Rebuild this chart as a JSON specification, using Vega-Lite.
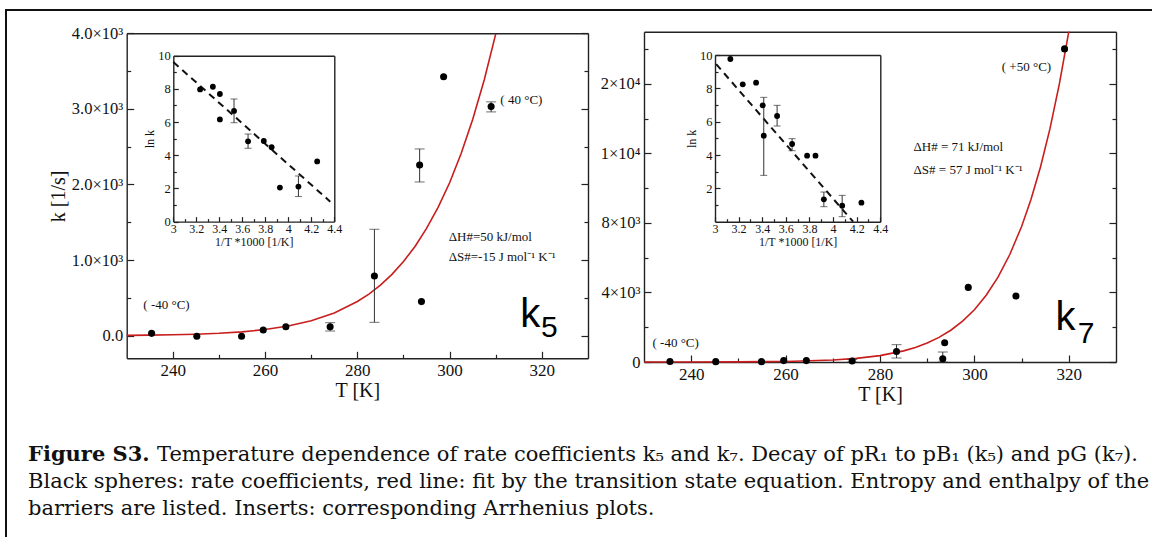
{
"$schema":"https://vega.github.io/schema/vega-lite/v6.json",
"width":1154,"height":535,
"autosize":{"type":"none"},
"padding":{"left":6,"top":10,"right":-8,"bottom":-8},
"background":"white",
"config":{
 "view":{"stroke":"#111","strokeWidth":2},
 "axis":{"grid":false,"domainColor":"#222","domainWidth":1.4,"tickColor":"#222","tickWidth":1.2,"labelFont":"Liberation Serif","titleFont":"Liberation Serif","titleFontWeight":"normal","labelColor":"#111","titleColor":"#111","labelFontSize":16,"titleFontSize":20,"labelPadding":10,"labelFlush":false,"labelOverlap":false},
 "text":{"font":"Liberation Serif","color":"#111"}
},
"datasets":{
 "ptsL":[
  {"T":235.4,"k":30},{"T":245.2,"k":-8},{"T":254.9,"k":-8},{"T":259.6,"k":74},{"T":264.5,"k":118},
  {"T":274.1,"k":118,"lo":61,"hi":171},{"T":283.7,"k":790,"lo":176,"hi":1407},{"T":293.5,"k":2258,"lo":2033,"hi":2470},
  {"T":293.9,"k":450},{"T":298.7,"k":3425},{"T":309.0,"k":3030,"lo":2960,"hi":3093}],
 "curveL":[
  {"T":230,"k":3.5},{"T":235,"k":6.2},{"T":240,"k":10.8},{"T":245,"k":18.4},{"T":250,"k":30.6},{"T":255,"k":50},
  {"T":260,"k":80},{"T":265,"k":127},{"T":270,"k":196},{"T":275,"k":300},{"T":280,"k":451},{"T":282.5,"k":550},
  {"T":285,"k":669},{"T":287.5,"k":811},{"T":290,"k":980},{"T":292.5,"k":1180},{"T":295,"k":1418},{"T":297.5,"k":1696},
  {"T":300,"k":2023},{"T":302.5,"k":2409},{"T":305,"k":2859},{"T":307.5,"k":3382},{"T":310,"k":3993}],
 "notesL":[
  {"T":233.6,"k":405,"txt":"( -40 °C)"},{"T":311.0,"k":3117,"txt":"( 40 °C)"},
  {"T":299.8,"k":1305,"txt":"ΔH#=50 kJ/mol"},{"T":299.8,"k":1040,"txt":"ΔS#=-15 J mol⁻¹ K⁻¹"}],
 "bigL":[{"T":315.3,"k":114,"txt":"k"}],
 "subL":[{"T":319.8,"k":-18,"txt":"5"}],
 "inL":[
  {"x":3.233,"y":7.97},{"x":3.344,"y":8.13},{"x":3.405,"y":7.69},{"x":3.405,"y":6.16},
  {"x":3.528,"y":6.67,"lo":5.96,"hi":7.39},{"x":3.65,"y":4.84,"lo":4.42,"hi":5.28},{"x":3.787,"y":4.86},
  {"x":3.855,"y":4.48},{"x":3.927,"y":2.05},{"x":4.088,"y":2.11,"lo":1.51,"hi":2.75},{"x":4.251,"y":3.63}],
 "fitL":[{"x":3.0,"y":9.62},{"x":4.365,"y":1.2}],
 "ptsR":[
  {"T":235.5,"k":30},{"T":245.2,"k":20},{"T":254.9,"k":20},{"T":259.6,"k":80},{"T":264.4,"k":80},
  {"T":274.1,"k":60,"lo":0,"hi":150},{"T":283.5,"k":600,"lo":230,"hi":996},{"T":293.3,"k":190,"lo":0,"hi":575},
  {"T":293.7,"k":1111},{"T":298.7,"k":4292},{"T":308.8,"k":3794},{"T":319.1,"k":18010}],
 "curveR":[
  {"T":230,"k":0.4},{"T":240,"k":2},{"T":250,"k":8.4},{"T":260,"k":32.6},{"T":270,"k":114.5},{"T":275,"k":207},
  {"T":280,"k":367},{"T":285,"k":639},{"T":287.5,"k":837},{"T":290,"k":1090},{"T":292.5,"k":1414},{"T":295,"k":1828},
  {"T":297.5,"k":2350},{"T":300,"k":3007},{"T":302.5,"k":3843},{"T":305,"k":4881},{"T":307.5,"k":6182},{"T":310,"k":7798},
  {"T":312,"k":9358},{"T":314,"k":11219},{"T":316,"k":13408},{"T":318,"k":15996},{"T":320,"k":19000}],
 "notesR":[
  {"T":305.8,"k":16970,"txt":"( +50 °C)"},{"T":231.8,"k":1093,"txt":"( -40 °C)"},
  {"T":287.1,"k":12367,"txt":"ΔH# = 71 kJ/mol"},{"T":287.1,"k":11045,"txt":"ΔS# = 57 J mol⁻¹ K⁻¹"}],
 "bigR":[{"T":317.2,"k":1841,"txt":"k"}],
 "subR":[{"T":321.9,"k":1093,"txt":"7"}],
 "inR":[
  {"x":3.13,"y":9.76},{"x":3.235,"y":8.24},{"x":3.348,"y":8.34},{"x":3.404,"y":6.98},
  {"x":3.413,"y":5.16,"lo":2.78,"hi":7.46},{"x":3.526,"y":6.34,"lo":5.74,"hi":6.98},{"x":3.653,"y":4.66,"lo":4.26,"hi":4.98},
  {"x":3.78,"y":3.96},{"x":3.851,"y":3.96},{"x":3.922,"y":1.34,"lo":0.9,"hi":1.78},{"x":4.077,"y":0.96,"lo":0.3,"hi":1.58},
  {"x":4.24,"y":1.14}],
 "fitR":[{"x":3.01,"y":9.45},{"x":4.17,"y":0}],
 "caption":[
  {"ln":1,"seg":"a","txt":"Figure S3."},
  {"ln":1,"seg":"b","txt":"Temperature dependence of rate coefficients k₅ and k₇. Decay of pR₁ to pB₁ (k₅) and pG (k₇)."},
  {"ln":2,"seg":"a","txt":"Black spheres: rate coefficients, red line: fit by the transition state equation. Entropy and enthalpy of the"},
  {"ln":3,"seg":"a","txt":"barriers are listed. Inserts: corresponding Arrhenius plots."}]
},
"layer":[
 {"data":{"name":"curveL"},"mark":{"type":"line","color":"#c81e1e","strokeWidth":1.6},
  "encoding":{
   "x":{"field":"T","type":"quantitative","scale":{"domain":[230,330],"range":[120.7,582],"nice":false,"zero":false},
        "axis":{"orient":"bottom","offset":-186.7,"values":[250,270,290,310],"tickSize":-4,"labels":false,"domain":false,"title":null}},
   "y":{"field":"k","type":"quantitative","scale":{"domain":[-300,4000],"range":[348.3,23.3],"nice":false,"zero":false},
        "axis":{"orient":"left","offset":-120.7,"values":[500,1500,2500,3500],"tickSize":-4,"labels":false,"domain":false,"title":null}}}},
 {"data":{"name":"ptsL"},"transform":[{"filter":"isValid(datum.lo)"}],"mark":{"type":"rule","color":"#333","strokeWidth":1},
  "encoding":{
   "x":{"field":"T","type":"quantitative","scale":{"domain":[230,330],"range":[120.7,582],"nice":false,"zero":false},
        "axis":{"orient":"top","offset":-23.3,"ticks":false,"labels":false,"title":null}},
   "y":{"field":"lo","type":"quantitative","scale":{"domain":[-300,4000],"range":[348.3,23.3],"nice":false,"zero":false},
        "axis":{"orient":"right","offset":-572,"values":[0,1000,2000,3000,4000],"tickSize":-7,"labels":false,"title":null}},
   "y2":{"field":"hi"}}},
 {"data":{"name":"ptsL"},"transform":[{"filter":"isValid(datum.lo)"}],"mark":{"type":"tick","orient":"horizontal","size":10,"thickness":1,"color":"#333"},
  "encoding":{
   "x":{"field":"T","type":"quantitative","scale":{"domain":[230,330],"range":[120.7,582],"nice":false,"zero":false},"axis":null},
   "y":{"field":"lo","type":"quantitative","scale":{"domain":[-300,4000],"range":[348.3,23.3],"nice":false,"zero":false},
        "axis":{"orient":"right","offset":-572,"values":[500,1500,2500,3500],"tickSize":-4,"labels":false,"domain":false,"title":null}}}},
 {"data":{"name":"ptsL"},"transform":[{"filter":"isValid(datum.hi)"}],"mark":{"type":"tick","orient":"horizontal","size":10,"thickness":1,"color":"#333"},
  "encoding":{
   "x":{"field":"T","type":"quantitative","scale":{"domain":[230,330],"range":[120.7,582],"nice":false,"zero":false},"axis":null},
   "y":{"field":"hi","type":"quantitative","scale":{"domain":[-300,4000],"range":[348.3,23.3],"nice":false,"zero":false},"axis":null}}},
 {"data":{"name":"ptsL"},"mark":{"type":"point","filled":true,"color":"#000","size":50,"opacity":1},
  "encoding":{
   "x":{"field":"T","type":"quantitative","scale":{"domain":[230,330],"range":[120.7,582],"nice":false,"zero":false},
        "axis":{"orient":"bottom","offset":-186.7,"values":[240,260,280,300,320],"tickSize":-7,"labelPadding":11,"labelFontSize":17,"title":"T [K]","titlePadding":2}},
   "y":{"field":"k","type":"quantitative","scale":{"domain":[-300,4000],"range":[348.3,23.3],"nice":false,"zero":false},
        "axis":{"orient":"left","offset":-120.7,"values":[0,1000,2000,3000,4000],"tickSize":-7,"labelPadding":11,"labelFontSize":16.5,
                "labelExpr":"datum.value === 0 ? '0.0' : format(datum.value/1000, '.1f') + '×10³'","title":"k [1/s]","titlePadding":3}}}},
 {"data":{"name":"notesL"},"mark":{"type":"text","align":"left","baseline":"middle","fontSize":13,"font":"Liberation Serif"},
  "encoding":{
   "x":{"field":"T","type":"quantitative","scale":{"domain":[230,330],"range":[120.7,582],"nice":false,"zero":false},"axis":null},
   "y":{"field":"k","type":"quantitative","scale":{"domain":[-300,4000],"range":[348.3,23.3],"nice":false,"zero":false},"axis":null},
   "text":{"field":"txt"}}},
 {"data":{"name":"bigL"},"mark":{"type":"text","align":"left","baseline":"alphabetic","fontSize":40,"font":"Liberation Sans","color":"#000"},
  "encoding":{
   "x":{"field":"T","type":"quantitative","scale":{"domain":[230,330],"range":[120.7,582],"nice":false,"zero":false},"axis":null},
   "y":{"field":"k","type":"quantitative","scale":{"domain":[-300,4000],"range":[348.3,23.3],"nice":false,"zero":false},"axis":null},
   "text":{"field":"txt"}}},
 {"data":{"name":"subL"},"mark":{"type":"text","align":"left","baseline":"alphabetic","fontSize":30,"font":"Liberation Sans","color":"#000"},
  "encoding":{
   "x":{"field":"T","type":"quantitative","scale":{"domain":[230,330],"range":[120.7,582],"nice":false,"zero":false},"axis":null},
   "y":{"field":"k","type":"quantitative","scale":{"domain":[-300,4000],"range":[348.3,23.3],"nice":false,"zero":false},"axis":null},
   "text":{"field":"txt"}}},

 {"data":{"name":"fitL"},"mark":{"type":"line","color":"#111","strokeWidth":2,"strokeDash":[7,5]},
  "encoding":{
   "x":{"field":"x","type":"quantitative","scale":{"domain":[3,4.4],"range":[167.3,328.3],"nice":false,"zero":false},
        "axis":{"orient":"bottom","offset":-323.4,"values":[3.1,3.3,3.5,3.7,3.9,4.1,4.3],"tickSize":-3,"labels":false,"domain":false,"title":null}},
   "y":{"field":"y","type":"quantitative","scale":{"domain":[0,10],"range":[211.6,45.7],"nice":false,"zero":false},
        "axis":{"orient":"left","offset":-167.3,"values":[1,3,5,7,9],"tickSize":-3,"labels":false,"domain":false,"title":null}}}},
 {"data":{"name":"inL"},"transform":[{"filter":"isValid(datum.lo)"}],"mark":{"type":"rule","color":"#333","strokeWidth":1},
  "encoding":{
   "x":{"field":"x","type":"quantitative","scale":{"domain":[3,4.4],"range":[167.3,328.3],"nice":false,"zero":false},
        "axis":{"orient":"top","offset":-45.7,"ticks":false,"labels":false,"title":null}},
   "y":{"field":"lo","type":"quantitative","scale":{"domain":[0,10],"range":[211.6,45.7],"nice":false,"zero":false},
        "axis":{"orient":"right","offset":-825.7,"ticks":false,"labels":false,"title":null}},
   "y2":{"field":"hi"}}},
 {"data":{"name":"inL"},"transform":[{"filter":"isValid(datum.lo)"}],"mark":{"type":"tick","orient":"horizontal","size":7,"thickness":1,"color":"#333"},
  "encoding":{
   "x":{"field":"x","type":"quantitative","scale":{"domain":[3,4.4],"range":[167.3,328.3],"nice":false,"zero":false},"axis":null},
   "y":{"field":"lo","type":"quantitative","scale":{"domain":[0,10],"range":[211.6,45.7],"nice":false,"zero":false},"axis":null}}},
 {"data":{"name":"inL"},"transform":[{"filter":"isValid(datum.hi)"}],"mark":{"type":"tick","orient":"horizontal","size":7,"thickness":1,"color":"#333"},
  "encoding":{
   "x":{"field":"x","type":"quantitative","scale":{"domain":[3,4.4],"range":[167.3,328.3],"nice":false,"zero":false},"axis":null},
   "y":{"field":"hi","type":"quantitative","scale":{"domain":[0,10],"range":[211.6,45.7],"nice":false,"zero":false},"axis":null}}},
 {"data":{"name":"inL"},"mark":{"type":"point","filled":true,"color":"#000","size":34,"opacity":1},
  "encoding":{
   "x":{"field":"x","type":"quantitative","scale":{"domain":[3,4.4],"range":[167.3,328.3],"nice":false,"zero":false},
        "axis":{"orient":"bottom","offset":-323.4,"values":[3,3.2,3.4,3.6,3.8,4,4.2,4.4],"tickSize":-5,"labelPadding":7,"labelFontSize":12,
                "labelExpr":"format(datum.value, '~g')","title":"1/T *1000 [1/K]","titleFontSize":12,"titlePadding":2}},
   "y":{"field":"y","type":"quantitative","scale":{"domain":[0,10],"range":[211.6,45.7],"nice":false,"zero":false},
        "axis":{"orient":"left","offset":-167.3,"values":[0,2,4,6,8,10],"tickSize":-5,"labelPadding":8,"labelFontSize":12.5,
                "title":"ln k","titleFontSize":12,"titlePadding":1}}}},

 {"data":{"name":"curveR"},"mark":{"type":"line","color":"#c81e1e","strokeWidth":1.6},
  "encoding":{
   "x":{"field":"T","type":"quantitative","scale":{"domain":[230,330],"range":[638,1110],"nice":false,"zero":false},
        "axis":{"orient":"bottom","offset":-183,"values":[250,270,290,310],"tickSize":-4,"labels":false,"domain":false,"title":null}},
   "y":{"field":"k","type":"quantitative","scale":{"domain":[0,19000],"range":[352,21.7],"nice":false,"zero":false},
        "axis":{"orient":"left","offset":-638,"values":[2000,6000,10000,14000,18000],"tickSize":-4,"labels":false,"domain":false,"title":null}}}},
 {"data":{"name":"ptsR"},"transform":[{"filter":"isValid(datum.lo)"}],"mark":{"type":"rule","color":"#333","strokeWidth":1},
  "encoding":{
   "x":{"field":"T","type":"quantitative","scale":{"domain":[230,330],"range":[638,1110],"nice":false,"zero":false},
        "axis":{"orient":"top","offset":-21.7,"ticks":false,"labels":false,"title":null}},
   "y":{"field":"lo","type":"quantitative","scale":{"domain":[0,19000],"range":[352,21.7],"nice":false,"zero":false},
        "axis":{"orient":"right","offset":-44,"values":[0,4000,8000,12000,16000],"tickSize":-7,"labels":false,"title":null}},
   "y2":{"field":"hi"}}},
 {"data":{"name":"ptsR"},"transform":[{"filter":"isValid(datum.lo)"}],"mark":{"type":"tick","orient":"horizontal","size":10,"thickness":1,"color":"#333"},
  "encoding":{
   "x":{"field":"T","type":"quantitative","scale":{"domain":[230,330],"range":[638,1110],"nice":false,"zero":false},"axis":null},
   "y":{"field":"lo","type":"quantitative","scale":{"domain":[0,19000],"range":[352,21.7],"nice":false,"zero":false},
        "axis":{"orient":"right","offset":-44,"values":[2000,6000,10000,14000,18000],"tickSize":-4,"labels":false,"domain":false,"title":null}}}},
 {"data":{"name":"ptsR"},"transform":[{"filter":"isValid(datum.hi)"}],"mark":{"type":"tick","orient":"horizontal","size":10,"thickness":1,"color":"#333"},
  "encoding":{
   "x":{"field":"T","type":"quantitative","scale":{"domain":[230,330],"range":[638,1110],"nice":false,"zero":false},"axis":null},
   "y":{"field":"hi","type":"quantitative","scale":{"domain":[0,19000],"range":[352,21.7],"nice":false,"zero":false},"axis":null}}},
 {"data":{"name":"ptsR"},"mark":{"type":"point","filled":true,"color":"#000","size":50,"opacity":1},
  "encoding":{
   "x":{"field":"T","type":"quantitative","scale":{"domain":[230,330],"range":[638,1110],"nice":false,"zero":false},
        "axis":{"orient":"bottom","offset":-183,"values":[240,260,280,300,320],"tickSize":-7,"labelPadding":11,"labelFontSize":17,"title":"T [K]","titlePadding":2}},
   "y":{"field":"k","type":"quantitative","scale":{"domain":[0,19000],"range":[352,21.7],"nice":false,"zero":false},
        "axis":{"orient":"left","offset":-638,"values":[0,4000,8000,12000,16000],"tickSize":-7,"labelPadding":11,"labelFontSize":16.5,
                "labelExpr":"datum.value === 0 ? '0' : datum.value === 4000 ? '4×10³' : datum.value === 8000 ? '8×10³' : datum.value === 12000 ? '1×10⁴' : '2×10⁴'","title":null}}}},
 {"data":{"name":"notesR"},"mark":{"type":"text","align":"left","baseline":"middle","fontSize":13,"font":"Liberation Serif"},
  "encoding":{
   "x":{"field":"T","type":"quantitative","scale":{"domain":[230,330],"range":[638,1110],"nice":false,"zero":false},"axis":null},
   "y":{"field":"k","type":"quantitative","scale":{"domain":[0,19000],"range":[352,21.7],"nice":false,"zero":false},"axis":null},
   "text":{"field":"txt"}}},
 {"data":{"name":"bigR"},"mark":{"type":"text","align":"left","baseline":"alphabetic","fontSize":40,"font":"Liberation Sans","color":"#000"},
  "encoding":{
   "x":{"field":"T","type":"quantitative","scale":{"domain":[230,330],"range":[638,1110],"nice":false,"zero":false},"axis":null},
   "y":{"field":"k","type":"quantitative","scale":{"domain":[0,19000],"range":[352,21.7],"nice":false,"zero":false},"axis":null},
   "text":{"field":"txt"}}},
 {"data":{"name":"subR"},"mark":{"type":"text","align":"left","baseline":"alphabetic","fontSize":30,"font":"Liberation Sans","color":"#000"},
  "encoding":{
   "x":{"field":"T","type":"quantitative","scale":{"domain":[230,330],"range":[638,1110],"nice":false,"zero":false},"axis":null},
   "y":{"field":"k","type":"quantitative","scale":{"domain":[0,19000],"range":[352,21.7],"nice":false,"zero":false},"axis":null},
   "text":{"field":"txt"}}},

 {"data":{"name":"fitR"},"mark":{"type":"line","color":"#111","strokeWidth":2,"strokeDash":[7,5]},
  "encoding":{
   "x":{"field":"x","type":"quantitative","scale":{"domain":[3,4.4],"range":[709,874.3],"nice":false,"zero":false},
        "axis":{"orient":"bottom","offset":-323.3,"values":[3.1,3.3,3.5,3.7,3.9,4.1,4.3],"tickSize":-3,"labels":false,"domain":false,"title":null}},
   "y":{"field":"y","type":"quantitative","scale":{"domain":[0,10],"range":[211.7,45],"nice":false,"zero":false},
        "axis":{"orient":"left","offset":-709,"values":[1,3,5,7,9],"tickSize":-3,"labels":false,"domain":false,"title":null}}}},
 {"data":{"name":"inR"},"transform":[{"filter":"isValid(datum.lo)"}],"mark":{"type":"rule","color":"#333","strokeWidth":1},
  "encoding":{
   "x":{"field":"x","type":"quantitative","scale":{"domain":[3,4.4],"range":[709,874.3],"nice":false,"zero":false},
        "axis":{"orient":"top","offset":-45,"ticks":false,"labels":false,"title":null}},
   "y":{"field":"lo","type":"quantitative","scale":{"domain":[0,10],"range":[211.7,45],"nice":false,"zero":false},
        "axis":{"orient":"right","offset":-279.7,"ticks":false,"labels":false,"title":null}},
   "y2":{"field":"hi"}}},
 {"data":{"name":"inR"},"transform":[{"filter":"isValid(datum.lo)"}],"mark":{"type":"tick","orient":"horizontal","size":7,"thickness":1,"color":"#333"},
  "encoding":{
   "x":{"field":"x","type":"quantitative","scale":{"domain":[3,4.4],"range":[709,874.3],"nice":false,"zero":false},"axis":null},
   "y":{"field":"lo","type":"quantitative","scale":{"domain":[0,10],"range":[211.7,45],"nice":false,"zero":false},"axis":null}}},
 {"data":{"name":"inR"},"transform":[{"filter":"isValid(datum.hi)"}],"mark":{"type":"tick","orient":"horizontal","size":7,"thickness":1,"color":"#333"},
  "encoding":{
   "x":{"field":"x","type":"quantitative","scale":{"domain":[3,4.4],"range":[709,874.3],"nice":false,"zero":false},"axis":null},
   "y":{"field":"hi","type":"quantitative","scale":{"domain":[0,10],"range":[211.7,45],"nice":false,"zero":false},"axis":null}}},
 {"data":{"name":"inR"},"mark":{"type":"point","filled":true,"color":"#000","size":34,"opacity":1},
  "encoding":{
   "x":{"field":"x","type":"quantitative","scale":{"domain":[3,4.4],"range":[709,874.3],"nice":false,"zero":false},
        "axis":{"orient":"bottom","offset":-323.3,"values":[3,3.2,3.4,3.6,3.8,4,4.2,4.4],"tickSize":-5,"labelPadding":7,"labelFontSize":12,
                "labelExpr":"format(datum.value, '~g')","title":"1/T *1000 [1/K]","titleFontSize":12,"titlePadding":2}},
   "y":{"field":"y","type":"quantitative","scale":{"domain":[0,10],"range":[211.7,45],"nice":false,"zero":false},
        "axis":{"orient":"left","offset":-709,"values":[2,4,6,8,10],"tickSize":-5,"labelPadding":8,"labelFontSize":12.5,
                "title":"ln k","titleFontSize":12,"titlePadding":1}}}},

 {"data":{"name":"caption"},"transform":[{"filter":"datum.seg === 'a' && datum.ln === 1"}],
  "mark":{"type":"text","align":"left","baseline":"alphabetic","font":"DejaVu Serif","fontSize":21,"fontWeight":"bold","color":"#111"},
  "encoding":{
   "x":{"field":"seg","type":"ordinal","scale":{"type":"point","domain":["a","b"],"range":[22,151],"padding":0},"axis":null},
   "y":{"field":"ln","type":"ordinal","scale":{"type":"point","domain":[1,2,3],"range":[451,505],"padding":0},"axis":null},
   "text":{"field":"txt"}}},
 {"data":{"name":"caption"},"transform":[{"filter":"!(datum.seg === 'a' && datum.ln === 1)"}],
  "mark":{"type":"text","align":"left","baseline":"alphabetic","font":"DejaVu Serif","fontSize":21,"color":"#111"},
  "encoding":{
   "x":{"field":"seg","type":"ordinal","scale":{"type":"point","domain":["a","b"],"range":[22,151],"padding":0},"axis":null},
   "y":{"field":"ln","type":"ordinal","scale":{"type":"point","domain":[1,2,3],"range":[451,505],"padding":0},"axis":null},
   "text":{"field":"txt"}}}
],
"resolve":{"scale":{"x":"independent","y":"independent"},"axis":{"x":"independent","y":"independent"}}
}
